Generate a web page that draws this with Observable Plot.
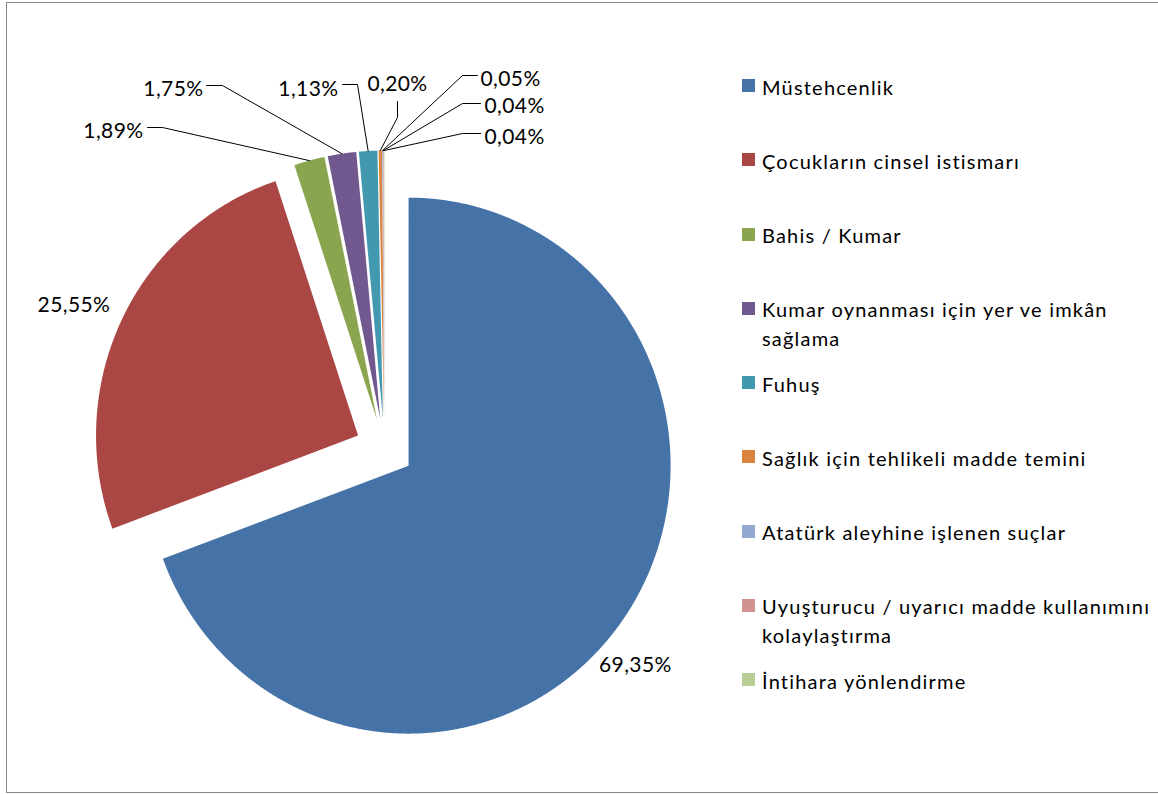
<!DOCTYPE html>
<html><head><meta charset="utf-8">
<script src="https://cdn.jsdelivr.net/npm/d3@7"></script>
<script src="https://cdn.jsdelivr.net/npm/@observablehq/plot@0.6"></script>
<style>
body{margin:0;background:#fff;font-family:Lato,"Noto Sans",sans-serif;color:#000;}
#frame{position:absolute;left:6px;top:2px;width:1160px;height:791px;border:1px solid #878787;box-sizing:border-box;}
#chart{position:absolute;left:0;top:0;}
#chart svg{letter-spacing:0.4px;}
#legend{position:absolute;left:742px;top:0;width:416px;height:794px;}
.item{position:absolute;left:0;width:410px;}
.sw{position:absolute;left:0;width:13px;height:13px;}
.lbl{position:absolute;left:20px;width:392px;font-size:20px;line-height:29px;letter-spacing:1.2px;white-space:normal;}
</style></head>
<body>
<div id="frame"></div>
<div id="chart"></div>
<div id="legend"></div>
<script>
// ---- data ----
const categories = [
  "Müstehcenlik",
  "Çocukların cinsel istismarı",
  "Bahis / Kumar",
  "Kumar oynanması için yer ve imkân sağlama",
  "Fuhuş",
  "Sağlık için tehlikeli madde temini",
  "Atatürk aleyhine işlenen suçlar",
  "Uyuşturucu / uyarıcı madde kullanımını kolaylaştırma",
  "İntihara yönlendirme"
];
const values = [69.35, 25.55, 1.89, 1.75, 1.13, 0.20, 0.05, 0.04, 0.04];
const colors = ["#4572A7","#AA4643","#89A54E","#71588F","#4198AF","#DB843D","#93A9CF","#D19392","#B9CD96"];

// ---- layout ----
const W = 730, H = 794, CX = 384, CY = 448, RX = 262, RY = 268, EXPLODE = 30 / 268;
const px2x = p => (p - CX) / RX;
const py2y = p => (CY - p) / RY;
// label layout: radial (radius factor, angle nudge in degrees) or pixel text position + leader points
const labelLayout = [
  {mode: "radial", rf: 1.254, da: 5.4, anchor: "middle"},
  {mode: "radial", rf: 1.30, da: -1.4, anchor: "middle"},
  {text: [143, 131], anchor: "end", leader: [[162, 127], [147, 127]]},
  {text: [203, 89], anchor: "end", leader: [[222, 85], [206, 85]]},
  {text: [338, 89], anchor: "end", leader: [[357, 84], [342, 84]]},
  {text: [397, 84], anchor: "middle", leader: [[397, 117], [397, 101]]},
  {text: [480, 79], anchor: "start", leader: [[462, 75], [477, 75]]},
  {text: [484, 105.5], anchor: "start", leader: [[462, 103], [480, 103]]},
  {text: [484, 136.5], anchor: "start", leader: [[462, 133], [480, 133]]}
];

const data = categories.map((c, i) => ({name: c, value: values[i]}));
const arcs = d3.pie().sort(null).value(d => d.value)(data);
const fmt = v => v.toFixed(2).replace(".", ",") + "%";

const polys = [], labels = [], leaders = [];
arcs.forEach((a, i) => {
  const mid = (a.startAngle + a.endAngle) / 2;
  const ox = EXPLODE * Math.sin(mid), oy = EXPLODE * Math.cos(mid);
  const name = a.data.name;
  polys.push({name, x: ox, y: oy});
  const n = Math.max(2, Math.ceil((a.endAngle - a.startAngle) / 0.004));
  for (let k = 0; k <= n; k++) {
    const t = a.startAngle + (a.endAngle - a.startAngle) * k / n;
    polys.push({name, x: ox + Math.sin(t), y: oy + Math.cos(t)});
  }
  const L = labelLayout[i];
  if (L.mode === "radial") {
    const ang = mid + L.da * Math.PI / 180;
    labels.push({name, text: fmt(a.data.value), anchor: L.anchor, x: L.rf * Math.sin(ang), y: L.rf * Math.cos(ang)});
  } else {
    labels.push({name, text: fmt(a.data.value), anchor: L.anchor, x: px2x(L.text[0]), y: py2y(L.text[1])});
    leaders.push({name, x: ox + Math.sin(mid), y: oy + Math.cos(mid)});
    L.leader.forEach(p => leaders.push({name, x: px2x(p[0]), y: py2y(p[1])}));
  }
});

const textMark = anchor => Plot.text(labels.filter(d => d.anchor === anchor), {
  x: "x", y: "y", text: "text", textAnchor: anchor, lineAnchor: "middle",
  fontSize: 21, fill: "#000"
});

const chart = Plot.plot({
  width: W, height: H,
  margin: 0,
  style: {fontFamily: "Lato, 'Noto Sans', sans-serif", background: "transparent"},
  x: {domain: [px2x(0), px2x(W)], axis: null},
  y: {domain: [py2y(H), py2y(0)], axis: null},
  color: {domain: categories, range: colors},
  marks: [
    Plot.line(polys, {x: "x", y: "y", z: "name", fill: "name", stroke: "none", curve: "linear-closed"}),
    Plot.line(leaders, {x: "x", y: "y", z: "name", stroke: "#000", strokeWidth: 1}),
    textMark("middle"), textMark("end"), textMark("start")
  ]
});
document.getElementById("chart").appendChild(chart);

// ---- legend ----
const legend = document.getElementById("legend");
const rowTop = 87, rowStep = 74.25;
categories.forEach((c, i) => {
  const item = document.createElement("div");
  item.className = "item";
  item.style.top = (rowTop + i * rowStep - 14.5) + "px";
  const sw = document.createElement("div");
  sw.className = "sw";
  sw.style.background = colors[i];
  sw.style.top = "6.5px";
  const lb = document.createElement("div");
  lb.className = "lbl";
  lb.textContent = c;
  item.appendChild(sw); item.appendChild(lb);
  legend.appendChild(item);
});
</script>
</body></html>
